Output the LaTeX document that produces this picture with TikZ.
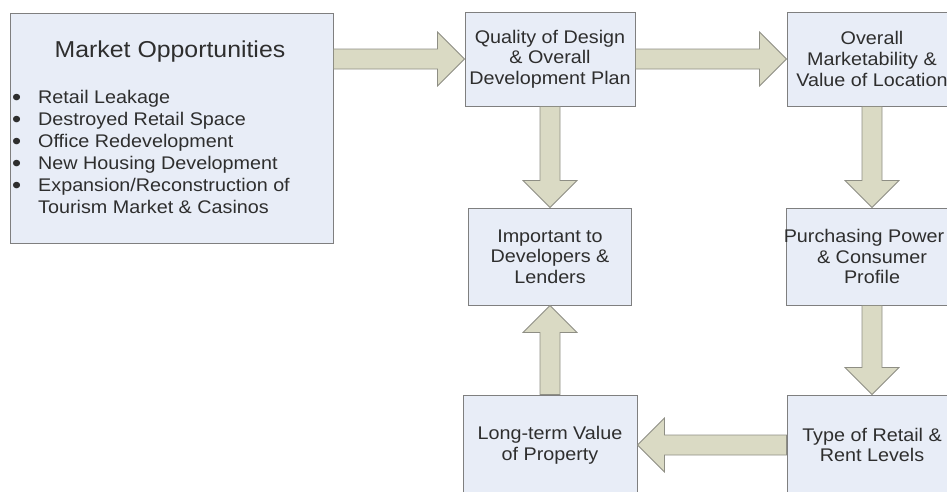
\documentclass[tikz,border=0pt]{standalone}
\usepackage{fontspec}
\setmainfont{Liberation Sans}[FakeStretch=1.08]
\usetikzlibrary{calc}

\definecolor{boxfill}{HTML}{E8EDF7}
\definecolor{boxline}{HTML}{7F7F7F}
\definecolor{arrowfill}{HTML}{DADAC4}
\definecolor{arrowline}{HTML}{8E8E84}
\definecolor{ink}{HTML}{2E2E2E}

% a centred line moved left by half of the given amount
\newcommand{\shiftedline}[2]{\hspace*{-#1}#2}
% list bullet, a little heavier than the text one
\newcommand{\listbullet}{\makebox[26pt][l]{\raisebox{-1.8pt}{\fontsize{24}{24}\selectfont\textbullet}}}

\tikzset{
  box/.style={draw=boxline, fill=boxfill, line width=1pt, inner sep=0pt,
    align=center, text=ink, font=\fontsize{18.3}{20.7}\selectfont},
  % hollow block arrow from the start point to the target point
  blockarrow/.style={draw=arrowline, fill=arrowfill, line width=0.8pt, line join=miter,
    to path={let \p1=($(\tikztotarget)-(\tikztostart)$),
                 \n1={atan2(\y1,\x1)},
                 \n2={veclen(\x1,\y1)-27pt} in
      ($(\tikztostart)+(\n1+90:10pt)$)
      -- ($(\tikztostart)+(\n1:\n2)+(\n1+90:10pt)$)
      -- ($(\tikztostart)+(\n1:\n2)+(\n1+90:27pt)$)
      -- (\tikztotarget)
      -- ($(\tikztostart)+(\n1:\n2)+(\n1-90:27pt)$)
      -- ($(\tikztostart)+(\n1:\n2)+(\n1-90:10pt)$)
      -- ($(\tikztostart)+(\n1-90:10pt)$)
      -- cycle}}
}

\begin{document}
\begin{tikzpicture}[x=1pt,y=-1pt]
\clip (0,0) rectangle (947,491);

% boxes
\node[box, minimum width=323pt, minimum height=230pt] (mo) at (171.5,128) {};
\node[font=\fontsize{23}{27}\selectfont, text=ink, anchor=base, inner sep=0pt] (motitle) at (170,57) {Market Opportunities};
\node[anchor=north west, inner sep=0pt, align=left, text=ink,
      font=\fontsize{18.3}{22}\selectfont] (molist) at (12,90) {%
  \listbullet Retail Leakage\\
  \listbullet Destroyed Retail Space\\
  \listbullet Office Redevelopment\\
  \listbullet New Housing Development\\
  \listbullet Expansion/Reconstruction of\\
  \hspace*{26pt}Tourism Market \& Casinos};

\node[box, minimum width=170pt, minimum height=94pt] (q) at (550,59)
  {Quality of Design\\ \& Overall\\ Development Plan};
\node[box, minimum width=170pt, minimum height=94pt] (ov) at (872,59)
  {Overall\\ Marketability \&\\ Value of Location};
\node[box, minimum width=163pt, minimum height=97pt] (imp) at (550,256.5)
  {Important to\\ Developers \&\\ Lenders};
\node[box, minimum width=171pt, minimum height=97pt] (pp) at (872,256.5)
  {\shiftedline{16pt}{Purchasing Power}\\ \& Consumer\\ Profile};
\node[box, minimum width=174pt, minimum height=100pt] (lt) at (550,445)
  {Long-term Value\\ of Property};
\node[box, minimum width=170pt, minimum height=100pt] (tr) at (872,445)
  {Type of Retail \&\\ Rent Levels};

% flow arrows
\draw[blockarrow] (mo.east |- q.west) to (q.west);
\draw[blockarrow] (q.east) to (ov.west);
\draw[blockarrow] (q.south) to (imp.north);
\draw[blockarrow] (ov.south) to (pp.north);
\draw[blockarrow] (pp.south) to (tr.north);
\draw[blockarrow] (tr.west) to (lt.east);
\draw[blockarrow] (lt.north) to (imp.south);
\end{tikzpicture}
\end{document}
